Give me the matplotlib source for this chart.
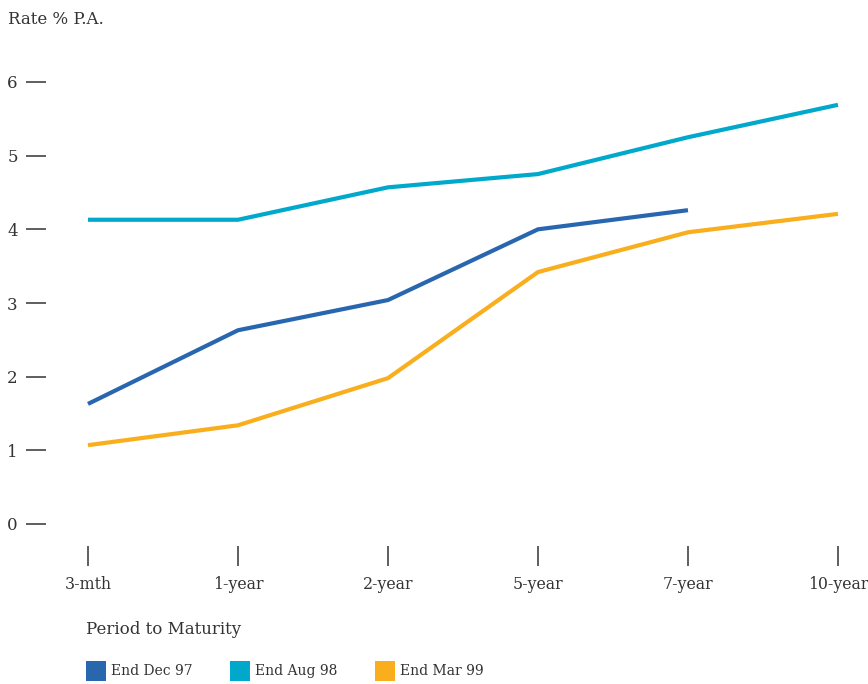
import matplotlib
matplotlib.use("Agg")
import matplotlib.pyplot as plt
from matplotlib.patches import Patch

# yield curve data
periods = ["3-mth", "1-year", "2-year", "5-year", "7-year", "10-year"]
dec97 = [1.63, 2.63, 3.04, 4.00, 4.26]
aug98 = [4.13, 4.13, 4.57, 4.75, 5.25, 5.69]
mar99 = [1.07, 1.34, 1.98, 3.42, 3.96, 4.21]
series_names = ["End Dec 97", "End Aug 98", "End Mar 99"]
colors = ["#2966b0", "#00a9cc", "#f9ae1d"]
yticks = [0, 1, 2, 3, 4, 5, 6]

plt.rcParams["font.family"] = ["DejaVu Serif"]
txt = "#333333"

fig = plt.figure(figsize=(8.68, 6.84), dpi=100)
ax = fig.add_axes([46 / 868, 160 / 684, 820 / 868, 442 / 684])

x = list(range(len(periods)))
for vals, c in zip([dec97, aug98, mar99], colors):
    ax.plot(x[:len(vals)], vals, color=c, lw=3, clip_on=False, solid_capstyle="butt")

ax.set_xlim(-0.28, 5.187)
ax.set_ylim(0, 6)
ax.set_yticks(yticks)
ax.set_xticks(x)
ax.set_xticklabels(periods)
for s in ["top", "right", "left", "bottom"]:
    ax.spines[s].set_visible(False)
# x ticks sit a little below the zero line (offset in points)
ax.spines["bottom"].set_position(("outward", 15.8))
ax.tick_params(axis="y", length=14.4, width=1.1, color=txt, pad=6, labelsize=12, labelcolor=txt)
ax.tick_params(axis="x", length=14.4, width=1.1, color=txt, pad=7.5, labelsize=11.3, labelcolor=txt)

fig.text(8 / 868, 1 - 20 / 684, "Rate % P.A.", fontsize=12, color=txt, va="center", ha="left")
fig.text(86 / 868, 1 - 630 / 684, "Period to Maturity", fontsize=12, color=txt, va="center", ha="left")

handles = [Patch(facecolor=c, edgecolor="none", label=n) for n, c in zip(series_names, colors)]
fig.legend(handles=handles, loc="center left", bbox_to_anchor=(82 / 868, 1 - 671 / 684), ncol=3,
           frameon=False, fontsize=10, handlelength=1.45, handleheight=1.9, handletextpad=0.35,
           columnspacing=2.7, labelcolor=txt, borderaxespad=0, borderpad=0.3)

fig.savefig("out.png", dpi=100)
